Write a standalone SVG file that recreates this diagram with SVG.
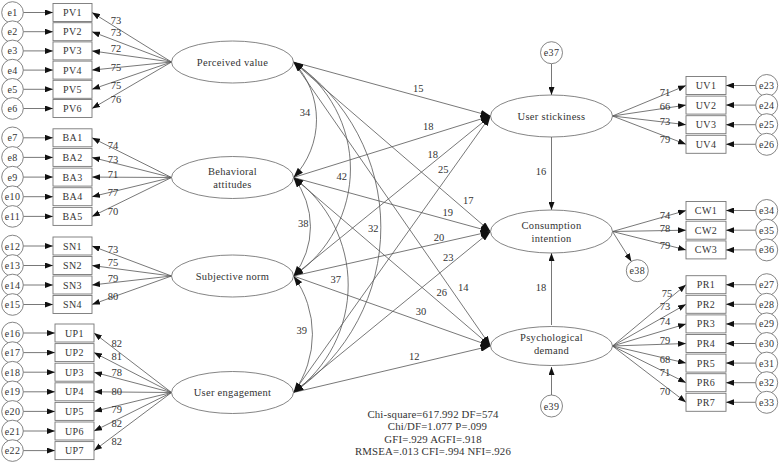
<svg xmlns="http://www.w3.org/2000/svg" width="779" height="462" viewBox="0 0 779 462">
<style>
text{font-family:"Liberation Serif","Times New Roman",serif;fill:#333;}
.lbl{font-size:10.5px;text-anchor:middle;}
.nd{font-size:10.5px;text-anchor:middle;letter-spacing:0.3px;}
.bx{font-size:10px;text-anchor:middle;letter-spacing:0.4px;}
.fit{font-size:10.8px;text-anchor:middle;letter-spacing:0.15px;}
.box{fill:#fff;stroke:#777;stroke-width:0.9;}
.ell{fill:#fff;stroke:#666;stroke-width:0.8;}
.err{fill:#fff;stroke:#666;stroke-width:0.8;}
.ln{fill:none;stroke:#555;stroke-width:0.8;marker-end:url(#ah);}
.sp{fill:none;stroke:#555;stroke-width:0.8;marker-end:url(#ab);}
.cv{fill:none;stroke:#555;stroke-width:0.8;marker-start:url(#ab);marker-end:url(#ab);}
</style>
<defs>
<marker id="ah" markerUnits="userSpaceOnUse" markerWidth="8" markerHeight="6" refX="8" refY="3" orient="auto"><path d="M0,0 L8,3 L0,6 z" fill="#111"/></marker>
<marker id="ab" markerUnits="userSpaceOnUse" markerWidth="10" markerHeight="7" refX="10" refY="3.5" orient="auto-start-reverse"><path d="M0,0 L10,3.5 L0,7 z" fill="#111"/></marker>
</defs>
<rect width="779" height="462" fill="#fff"/>

<g id="connectors">
<line class="ln" x1="23.3" y1="12.5" x2="53" y2="12.5"/>
<line class="ln" x1="23.3" y1="31.7" x2="53" y2="31.7"/>
<line class="ln" x1="23.3" y1="50.9" x2="53" y2="50.9"/>
<line class="ln" x1="23.3" y1="70.1" x2="53" y2="70.1"/>
<line class="ln" x1="23.3" y1="89.3" x2="53" y2="89.3"/>
<line class="ln" x1="23.3" y1="108.5" x2="53" y2="108.5"/>
<line class="ln" x1="23.3" y1="137.8" x2="53" y2="137.8"/>
<line class="ln" x1="23.3" y1="157.4" x2="53" y2="157.4"/>
<line class="ln" x1="23.3" y1="177.1" x2="53" y2="177.1"/>
<line class="ln" x1="23.3" y1="196.7" x2="53" y2="196.7"/>
<line class="ln" x1="23.3" y1="216.4" x2="53" y2="216.4"/>
<line class="ln" x1="23.3" y1="246" x2="53" y2="246"/>
<line class="ln" x1="23.3" y1="265.5" x2="53" y2="265.5"/>
<line class="ln" x1="23.3" y1="285" x2="53" y2="285"/>
<line class="ln" x1="23.3" y1="304.5" x2="53" y2="304.5"/>
<line class="ln" x1="23.3" y1="333" x2="55" y2="333"/>
<line class="ln" x1="23.3" y1="352.6" x2="55" y2="352.6"/>
<line class="ln" x1="23.3" y1="372.2" x2="55" y2="372.2"/>
<line class="ln" x1="23.3" y1="391.8" x2="55" y2="391.8"/>
<line class="ln" x1="23.3" y1="411.4" x2="55" y2="411.4"/>
<line class="ln" x1="23.3" y1="431" x2="55" y2="431"/>
<line class="ln" x1="23.3" y1="450.6" x2="55" y2="450.6"/>
<line class="ln" x1="171.5" y1="62" x2="92" y2="12.5"/>
<line class="ln" x1="171.5" y1="62" x2="92" y2="31.7"/>
<line class="ln" x1="171.5" y1="62" x2="92" y2="50.9"/>
<line class="ln" x1="171.5" y1="62" x2="92" y2="70.1"/>
<line class="ln" x1="171.5" y1="62" x2="92" y2="89.3"/>
<line class="ln" x1="171.5" y1="62" x2="92" y2="108.5"/>
<line class="ln" x1="171.5" y1="177.5" x2="92" y2="137.8"/>
<line class="ln" x1="171.5" y1="177.5" x2="92" y2="157.4"/>
<line class="ln" x1="171.5" y1="177.5" x2="92" y2="177.1"/>
<line class="ln" x1="171.5" y1="177.5" x2="92" y2="196.7"/>
<line class="ln" x1="171.5" y1="177.5" x2="92" y2="216.4"/>
<line class="ln" x1="171.5" y1="276" x2="92" y2="246"/>
<line class="ln" x1="171.5" y1="276" x2="92" y2="265.5"/>
<line class="ln" x1="171.5" y1="276" x2="92" y2="285"/>
<line class="ln" x1="171.5" y1="276" x2="92" y2="304.5"/>
<line class="ln" x1="171.5" y1="392.5" x2="94" y2="333"/>
<line class="ln" x1="171.5" y1="392.5" x2="94" y2="352.6"/>
<line class="ln" x1="171.5" y1="392.5" x2="94" y2="372.2"/>
<line class="ln" x1="171.5" y1="392.5" x2="94" y2="391.8"/>
<line class="ln" x1="171.5" y1="392.5" x2="94" y2="411.4"/>
<line class="ln" x1="171.5" y1="392.5" x2="94" y2="431"/>
<line class="ln" x1="171.5" y1="392.5" x2="94" y2="450.6"/>
<line class="ln" x1="612.5" y1="116" x2="686" y2="85.5"/>
<line class="ln" x1="612.5" y1="116" x2="686" y2="105.1"/>
<line class="ln" x1="612.5" y1="116" x2="686" y2="124.7"/>
<line class="ln" x1="612.5" y1="116" x2="686" y2="144.3"/>
<line class="ln" x1="612.5" y1="231.5" x2="686" y2="210.5"/>
<line class="ln" x1="612.5" y1="231.5" x2="686" y2="230.2"/>
<line class="ln" x1="612.5" y1="231.5" x2="686" y2="249.9"/>
<line class="ln" x1="612.5" y1="346" x2="686" y2="284.7"/>
<line class="ln" x1="612.5" y1="346" x2="686" y2="304.3"/>
<line class="ln" x1="612.5" y1="346" x2="686" y2="323.9"/>
<line class="ln" x1="612.5" y1="346" x2="686" y2="343.5"/>
<line class="ln" x1="612.5" y1="346" x2="686" y2="363.1"/>
<line class="ln" x1="612.5" y1="346" x2="686" y2="382.7"/>
<line class="ln" x1="612.5" y1="346" x2="686" y2="402.3"/>
<line class="ln" x1="755.7" y1="85.5" x2="726" y2="85.5"/>
<line class="ln" x1="755.7" y1="105.1" x2="726" y2="105.1"/>
<line class="ln" x1="755.7" y1="124.7" x2="726" y2="124.7"/>
<line class="ln" x1="755.7" y1="144.3" x2="726" y2="144.3"/>
<line class="ln" x1="755.7" y1="210.5" x2="726" y2="210.5"/>
<line class="ln" x1="755.7" y1="230.2" x2="726" y2="230.2"/>
<line class="ln" x1="755.7" y1="249.9" x2="726" y2="249.9"/>
<line class="ln" x1="755.7" y1="284.7" x2="726" y2="284.7"/>
<line class="ln" x1="755.7" y1="304.3" x2="726" y2="304.3"/>
<line class="ln" x1="755.7" y1="323.9" x2="726" y2="323.9"/>
<line class="ln" x1="755.7" y1="343.5" x2="726" y2="343.5"/>
<line class="ln" x1="755.7" y1="363.1" x2="726" y2="363.1"/>
<line class="ln" x1="755.7" y1="382.7" x2="726" y2="382.7"/>
<line class="ln" x1="755.7" y1="402.3" x2="726" y2="402.3"/>
<line class="ln" x1="551.5" y1="63.7" x2="551.5" y2="95"/>
<line class="ln" x1="551.5" y1="395" x2="551.5" y2="367"/>
<line class="ln" x1="612.5" y1="231.5" x2="631.4" y2="261.4"/>
<line class="ln" x1="551.5" y1="137" x2="551.5" y2="210"/>
<line class="ln" x1="551.5" y1="325" x2="551.5" y2="253"/>
<line class="sp" x1="293.5" y1="62" x2="490.5" y2="116"/>
<line class="sp" x1="293.5" y1="177.5" x2="490.5" y2="116"/>
<line class="sp" x1="293.5" y1="276" x2="490.5" y2="116"/>
<line class="sp" x1="293.5" y1="392.5" x2="490.5" y2="116"/>
<line class="sp" x1="293.5" y1="62" x2="490.5" y2="231.5"/>
<line class="sp" x1="293.5" y1="177.5" x2="490.5" y2="231.5"/>
<line class="sp" x1="293.5" y1="276" x2="490.5" y2="231.5"/>
<line class="sp" x1="293.5" y1="392.5" x2="490.5" y2="231.5"/>
<line class="sp" x1="293.5" y1="62" x2="490.5" y2="346"/>
<line class="sp" x1="293.5" y1="177.5" x2="490.5" y2="346"/>
<line class="sp" x1="293.5" y1="276" x2="490.5" y2="346"/>
<line class="sp" x1="293.5" y1="392.5" x2="490.5" y2="346"/>
<path class="cv" d="M293.5,62 A84,84 0 0 1 293.5,177.5"/>
<path class="cv" d="M293.5,177.5 A80,80 0 0 1 293.5,276"/>
<path class="cv" d="M293.5,276 A99,99 0 0 1 293.5,392.5"/>
<path class="cv" d="M293.5,62 A129,129 0 0 1 293.5,276"/>
<path class="cv" d="M293.5,177.5 A133,133 0 0 1 293.5,392.5"/>
<path class="cv" d="M293.5,62 A200,200 0 0 1 293.5,392.5"/>
</g>

<g id="connector-labels">
<text class="lbl" x="116" y="23.5">73</text>
<text class="lbl" x="116" y="35.5">73</text>
<text class="lbl" x="116" y="51.5">72</text>
<text class="lbl" x="116" y="70.5">75</text>
<text class="lbl" x="116" y="88.5">75</text>
<text class="lbl" x="116" y="102.5">76</text>
<text class="lbl" x="113" y="148.5">74</text>
<text class="lbl" x="113" y="162.5">73</text>
<text class="lbl" x="113" y="177.5">71</text>
<text class="lbl" x="113" y="196">77</text>
<text class="lbl" x="113" y="214.5">70</text>
<text class="lbl" x="113" y="252.8">73</text>
<text class="lbl" x="113" y="266.2">75</text>
<text class="lbl" x="113" y="281.8">79</text>
<text class="lbl" x="113" y="299.5">80</text>
<text class="lbl" x="116.7" y="346.8">82</text>
<text class="lbl" x="116.7" y="360.2">81</text>
<text class="lbl" x="116.7" y="375.8">78</text>
<text class="lbl" x="116.7" y="394.5">80</text>
<text class="lbl" x="116.7" y="412.8">79</text>
<text class="lbl" x="116.7" y="426.8">82</text>
<text class="lbl" x="116.7" y="445.2">82</text>
<text class="lbl" x="665" y="95.8">71</text>
<text class="lbl" x="665" y="109.5">66</text>
<text class="lbl" x="665" y="124.5">73</text>
<text class="lbl" x="665" y="142.8">79</text>
<text class="lbl" x="665" y="218.5">74</text>
<text class="lbl" x="665" y="231.8">78</text>
<text class="lbl" x="665" y="249.2">79</text>
<text class="lbl" x="667" y="296.8">75</text>
<text class="lbl" x="665" y="310.2">73</text>
<text class="lbl" x="665" y="325.2">74</text>
<text class="lbl" x="665" y="344.2">79</text>
<text class="lbl" x="665" y="362.5">68</text>
<text class="lbl" x="665" y="376.2">71</text>
<text class="lbl" x="665" y="395.2">70</text>
<text class="lbl" x="418.3" y="91.8">15</text>
<text class="lbl" x="428.3" y="129.5">18</text>
<text class="lbl" x="432.7" y="157.5">18</text>
<text class="lbl" x="443.3" y="172.8">25</text>
<text class="lbl" x="468.3" y="203.5">17</text>
<text class="lbl" x="447.7" y="215.8">19</text>
<text class="lbl" x="439" y="240.8">20</text>
<text class="lbl" x="448.3" y="260.8">23</text>
<text class="lbl" x="463.3" y="290.8">14</text>
<text class="lbl" x="441.7" y="296.2">26</text>
<text class="lbl" x="421" y="315.2">30</text>
<text class="lbl" x="414.3" y="359.5">12</text>
<text class="lbl" x="305" y="116.2">34</text>
<text class="lbl" x="303.3" y="226.8">38</text>
<text class="lbl" x="301.7" y="334.2">39</text>
<text class="lbl" x="341.7" y="180.2">42</text>
<text class="lbl" x="335.7" y="282.5">37</text>
<text class="lbl" x="373.3" y="231.8">32</text>
<text class="lbl" x="541" y="174.5">16</text>
<text class="lbl" x="541" y="290.8">18</text>
</g>

<g id="perceived-value"><ellipse class="ell" cx="232.5" cy="62" rx="61" ry="21"/><text class="nd" x="232.5" y="65.5">Perceived value</text></g>
<g id="behavioral-attitudes"><ellipse class="ell" cx="232.5" cy="177.5" rx="61" ry="21"/><text class="nd" x="232.5" y="174.5">Behavioral</text><text class="nd" x="232.5" y="187.5">attitudes</text></g>
<g id="subjective-norm"><ellipse class="ell" cx="232.5" cy="276" rx="61" ry="21"/><text class="nd" x="232.5" y="279.5">Subjective norm</text></g>
<g id="user-engagement"><ellipse class="ell" cx="232.5" cy="392.5" rx="61" ry="21"/><text class="nd" x="232.5" y="396">User engagement</text></g>
<g id="user-stickiness"><ellipse class="ell" cx="551.5" cy="116" rx="61" ry="21"/><text class="nd" x="551.5" y="119.5">User stickiness</text></g>
<g id="consumption-intention"><ellipse class="ell" cx="551.5" cy="231.5" rx="61" ry="21.5"/><text class="nd" x="551.5" y="228.5">Consumption</text><text class="nd" x="551.5" y="241.5">intention</text></g>
<g id="psychological-demand"><ellipse class="ell" cx="551.5" cy="346" rx="61" ry="19.5"/><text class="nd" x="551.5" y="341">Psychological</text><text class="nd" x="551.5" y="353.5">demand</text></g>
<g id="e37"><circle class="err" cx="551.5" cy="52.7" r="11"/><text class="bx" x="551.5" y="56.2">e37</text></g>
<g id="e38"><circle class="err" cx="637.3" cy="270.7" r="11"/><text class="bx" x="637.3" y="274.2">e38</text></g>
<g id="e39"><circle class="err" cx="551.5" cy="406" r="11"/><text class="bx" x="551.5" y="409.5">e39</text></g>

<g id="PV1"><rect class="box" x="53" y="3.5" width="39" height="18"/><text class="bx" x="72.5" y="16">PV1</text></g>
<g id="PV2"><rect class="box" x="53" y="22.7" width="39" height="18"/><text class="bx" x="72.5" y="35.2">PV2</text></g>
<g id="PV3"><rect class="box" x="53" y="41.9" width="39" height="18"/><text class="bx" x="72.5" y="54.4">PV3</text></g>
<g id="PV4"><rect class="box" x="53" y="61.1" width="39" height="18"/><text class="bx" x="72.5" y="73.6">PV4</text></g>
<g id="PV5"><rect class="box" x="53" y="80.3" width="39" height="18"/><text class="bx" x="72.5" y="92.8">PV5</text></g>
<g id="PV6"><rect class="box" x="53" y="99.5" width="39" height="18"/><text class="bx" x="72.5" y="112">PV6</text></g>
<g id="BA1"><rect class="box" x="53" y="128.8" width="39" height="18"/><text class="bx" x="72.5" y="141.3">BA1</text></g>
<g id="BA2"><rect class="box" x="53" y="148.4" width="39" height="18"/><text class="bx" x="72.5" y="160.9">BA2</text></g>
<g id="BA3"><rect class="box" x="53" y="168.1" width="39" height="18"/><text class="bx" x="72.5" y="180.6">BA3</text></g>
<g id="BA4"><rect class="box" x="53" y="187.7" width="39" height="18"/><text class="bx" x="72.5" y="200.2">BA4</text></g>
<g id="BA5"><rect class="box" x="53" y="207.4" width="39" height="18"/><text class="bx" x="72.5" y="219.9">BA5</text></g>
<g id="SN1"><rect class="box" x="53" y="237" width="39" height="18"/><text class="bx" x="72.5" y="249.5">SN1</text></g>
<g id="SN2"><rect class="box" x="53" y="256.5" width="39" height="18"/><text class="bx" x="72.5" y="269">SN2</text></g>
<g id="SN3"><rect class="box" x="53" y="276" width="39" height="18"/><text class="bx" x="72.5" y="288.5">SN3</text></g>
<g id="SN4"><rect class="box" x="53" y="295.5" width="39" height="18"/><text class="bx" x="72.5" y="308">SN4</text></g>
<g id="UP1"><rect class="box" x="55" y="324" width="39" height="18"/><text class="bx" x="74.5" y="336.5">UP1</text></g>
<g id="UP2"><rect class="box" x="55" y="343.6" width="39" height="18"/><text class="bx" x="74.5" y="356.1">UP2</text></g>
<g id="UP3"><rect class="box" x="55" y="363.2" width="39" height="18"/><text class="bx" x="74.5" y="375.7">UP3</text></g>
<g id="UP4"><rect class="box" x="55" y="382.8" width="39" height="18"/><text class="bx" x="74.5" y="395.3">UP4</text></g>
<g id="UP5"><rect class="box" x="55" y="402.4" width="39" height="18"/><text class="bx" x="74.5" y="414.9">UP5</text></g>
<g id="UP6"><rect class="box" x="55" y="422" width="39" height="18"/><text class="bx" x="74.5" y="434.5">UP6</text></g>
<g id="UP7"><rect class="box" x="55" y="441.6" width="39" height="18"/><text class="bx" x="74.5" y="454.1">UP7</text></g>

<g id="e1"><circle class="err" cx="12.5" cy="12.5" r="10.8"/><text class="bx" x="12.5" y="16">e1</text></g>
<g id="e2"><circle class="err" cx="12.5" cy="31.7" r="10.8"/><text class="bx" x="12.5" y="35.2">e2</text></g>
<g id="e3"><circle class="err" cx="12.5" cy="50.9" r="10.8"/><text class="bx" x="12.5" y="54.4">e3</text></g>
<g id="e4"><circle class="err" cx="12.5" cy="70.1" r="10.8"/><text class="bx" x="12.5" y="73.6">e4</text></g>
<g id="e5"><circle class="err" cx="12.5" cy="89.3" r="10.8"/><text class="bx" x="12.5" y="92.8">e5</text></g>
<g id="e6"><circle class="err" cx="12.5" cy="108.5" r="10.8"/><text class="bx" x="12.5" y="112">e6</text></g>
<g id="e7"><circle class="err" cx="12.5" cy="137.8" r="10.8"/><text class="bx" x="12.5" y="141.3">e7</text></g>
<g id="e8"><circle class="err" cx="12.5" cy="157.4" r="10.8"/><text class="bx" x="12.5" y="160.9">e8</text></g>
<g id="e9"><circle class="err" cx="12.5" cy="177.1" r="10.8"/><text class="bx" x="12.5" y="180.6">e9</text></g>
<g id="e10"><circle class="err" cx="12.5" cy="196.7" r="10.8"/><text class="bx" x="12.5" y="200.2">e10</text></g>
<g id="e11"><circle class="err" cx="12.5" cy="216.4" r="10.8"/><text class="bx" x="12.5" y="219.9">e11</text></g>
<g id="e12"><circle class="err" cx="12.5" cy="246" r="10.8"/><text class="bx" x="12.5" y="249.5">e12</text></g>
<g id="e13"><circle class="err" cx="12.5" cy="265.5" r="10.8"/><text class="bx" x="12.5" y="269">e13</text></g>
<g id="e14"><circle class="err" cx="12.5" cy="285" r="10.8"/><text class="bx" x="12.5" y="288.5">e14</text></g>
<g id="e15"><circle class="err" cx="12.5" cy="304.5" r="10.8"/><text class="bx" x="12.5" y="308">e15</text></g>
<g id="e16"><circle class="err" cx="12.5" cy="333" r="10.8"/><text class="bx" x="12.5" y="336.5">e16</text></g>
<g id="e17"><circle class="err" cx="12.5" cy="352.6" r="10.8"/><text class="bx" x="12.5" y="356.1">e17</text></g>
<g id="e18"><circle class="err" cx="12.5" cy="372.2" r="10.8"/><text class="bx" x="12.5" y="375.7">e18</text></g>
<g id="e19"><circle class="err" cx="12.5" cy="391.8" r="10.8"/><text class="bx" x="12.5" y="395.3">e19</text></g>
<g id="e20"><circle class="err" cx="12.5" cy="411.4" r="10.8"/><text class="bx" x="12.5" y="414.9">e20</text></g>
<g id="e21"><circle class="err" cx="12.5" cy="431" r="10.8"/><text class="bx" x="12.5" y="434.5">e21</text></g>
<g id="e22"><circle class="err" cx="12.5" cy="450.6" r="10.8"/><text class="bx" x="12.5" y="454.1">e22</text></g>

<g id="UV1"><rect class="box" x="686" y="76.5" width="40" height="18"/><text class="bx" x="706" y="89">UV1</text></g>
<g id="UV2"><rect class="box" x="686" y="96.1" width="40" height="18"/><text class="bx" x="706" y="108.6">UV2</text></g>
<g id="UV3"><rect class="box" x="686" y="115.7" width="40" height="18"/><text class="bx" x="706" y="128.2">UV3</text></g>
<g id="UV4"><rect class="box" x="686" y="135.3" width="40" height="18"/><text class="bx" x="706" y="147.8">UV4</text></g>
<g id="CW1"><rect class="box" x="686" y="201.5" width="40" height="18"/><text class="bx" x="706" y="214">CW1</text></g>
<g id="CW2"><rect class="box" x="686" y="221.2" width="40" height="18"/><text class="bx" x="706" y="233.7">CW2</text></g>
<g id="CW3"><rect class="box" x="686" y="240.9" width="40" height="18"/><text class="bx" x="706" y="253.4">CW3</text></g>
<g id="PR1"><rect class="box" x="686" y="275.7" width="40" height="18"/><text class="bx" x="706" y="288.2">PR1</text></g>
<g id="PR2"><rect class="box" x="686" y="295.3" width="40" height="18"/><text class="bx" x="706" y="307.8">PR2</text></g>
<g id="PR3"><rect class="box" x="686" y="314.9" width="40" height="18"/><text class="bx" x="706" y="327.4">PR3</text></g>
<g id="PR4"><rect class="box" x="686" y="334.5" width="40" height="18"/><text class="bx" x="706" y="347">PR4</text></g>
<g id="PR5"><rect class="box" x="686" y="354.1" width="40" height="18"/><text class="bx" x="706" y="366.6">PR5</text></g>
<g id="PR6"><rect class="box" x="686" y="373.7" width="40" height="18"/><text class="bx" x="706" y="386.2">PR6</text></g>
<g id="PR7"><rect class="box" x="686" y="393.3" width="40" height="18"/><text class="bx" x="706" y="405.8">PR7</text></g>

<g id="e23"><circle class="err" cx="766.7" cy="85.5" r="11"/><text class="bx" x="766.7" y="89">e23</text></g>
<g id="e24"><circle class="err" cx="766.7" cy="105.1" r="11"/><text class="bx" x="766.7" y="108.6">e24</text></g>
<g id="e25"><circle class="err" cx="766.7" cy="124.7" r="11"/><text class="bx" x="766.7" y="128.2">e25</text></g>
<g id="e26"><circle class="err" cx="766.7" cy="144.3" r="11"/><text class="bx" x="766.7" y="147.8">e26</text></g>
<g id="e34"><circle class="err" cx="766.7" cy="210.5" r="11"/><text class="bx" x="766.7" y="214">e34</text></g>
<g id="e35"><circle class="err" cx="766.7" cy="230.2" r="11"/><text class="bx" x="766.7" y="233.7">e35</text></g>
<g id="e36"><circle class="err" cx="766.7" cy="249.9" r="11"/><text class="bx" x="766.7" y="253.4">e36</text></g>
<g id="e27"><circle class="err" cx="766.7" cy="284.7" r="11"/><text class="bx" x="766.7" y="288.2">e27</text></g>
<g id="e28"><circle class="err" cx="766.7" cy="304.3" r="11"/><text class="bx" x="766.7" y="307.8">e28</text></g>
<g id="e29"><circle class="err" cx="766.7" cy="323.9" r="11"/><text class="bx" x="766.7" y="327.4">e29</text></g>
<g id="e30"><circle class="err" cx="766.7" cy="343.5" r="11"/><text class="bx" x="766.7" y="347">e30</text></g>
<g id="e31"><circle class="err" cx="766.7" cy="363.1" r="11"/><text class="bx" x="766.7" y="366.6">e31</text></g>
<g id="e32"><circle class="err" cx="766.7" cy="382.7" r="11"/><text class="bx" x="766.7" y="386.2">e32</text></g>
<g id="e33"><circle class="err" cx="766.7" cy="402.3" r="11"/><text class="bx" x="766.7" y="405.8">e33</text></g>

<g id="fit-statistics">
<text class="fit" x="433" y="417.5">Chi-square=617.992 DF=574</text>
<text class="fit" x="437.5" y="429.5">Chi/DF=1.077 P=.099</text>
<text class="fit" x="433" y="442.5">GFI=.929 AGFI=.918</text>
<text class="fit" x="433" y="454.5">RMSEA=.013 CFI=.994 NFI=.926</text>
</g>
</svg>
